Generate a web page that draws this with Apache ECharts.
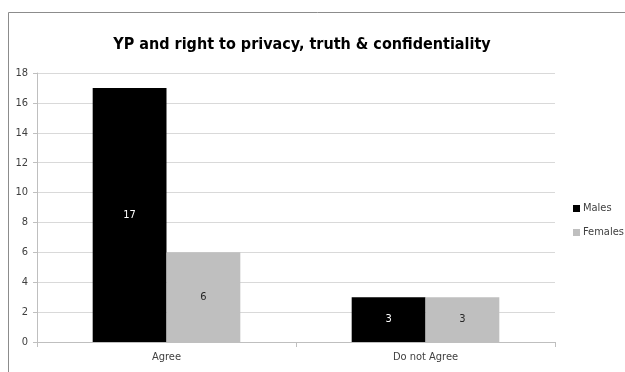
<!doctype html>
<html>
<head>
<meta charset="UTF-8">
<title>YP and right to privacy</title>
<script src="https://cdn.jsdelivr.net/npm/echarts@6/dist/echarts.min.js"></script>
<style>
  html, body { margin: 0; padding: 0; background: #fff; }
  #main { width: 625px; height: 372px; }
</style>
</head>
<body>
<div id="main"></div>
<script>
// data
var categories = ['Agree', 'Do not Agree'];
var males = [17, 3];
var females = [6, 3];
var seriesNames = ['Males', 'Females'];

var font = '"DejaVu Sans Condensed", "Liberation Sans", sans-serif';
var chart = echarts.init(document.getElementById('main'));

var option = {
  backgroundColor: '#fff',
  animation: false,
  textStyle: { fontFamily: font },
  title: {
    text: 'YP and right to privacy, truth & confidentiality',
    left: 297, top: 32, textAlign: 'center',
    textStyle: { fontFamily: font, fontSize: 16, fontWeight: 'bold', color: '#000' }
  },
  graphic: [{
    type: 'rect', z: -1,
    shape: { x: 8.5, y: 12.5, width: 640, height: 380 },
    style: { fill: 'none', stroke: '#8c8c8c', lineWidth: 1 }
  }],
  legend: {
    orient: 'vertical', left: 568, top: 198,
    itemWidth: 7, itemHeight: 7, itemGap: 13,
    icon: 'rect',
    textStyle: { fontFamily: font, fontSize: 11, color: '#404040', padding: [0, 0, 0, -2] },
    data: seriesNames
  },
  grid: { left: 37, right: 70, top: 73, bottom: 30 },
  xAxis: {
    type: 'category', data: categories,
    axisLine: { lineStyle: { color: '#bfbfbf' } },
    axisTick: { show: true, length: 5, lineStyle: { color: '#bfbfbf' } },
    axisLabel: { fontFamily: font, fontSize: 11, color: '#404040', margin: 10 }
  },
  yAxis: {
    type: 'value', min: 0, max: 18, interval: 2,
    axisLine: { show: true, lineStyle: { color: '#bfbfbf' } },
    axisTick: { show: true, length: 4, lineStyle: { color: '#bfbfbf' } },
    axisLabel: { fontFamily: font, fontSize: 11, color: '#404040', margin: 9 },
    splitLine: { lineStyle: { color: '#d9d9d9' } }
  },
  series: [{
    name: seriesNames[0], type: 'bar', data: males,
    barGap: '0%', barCategoryGap: '43%',
    itemStyle: { color: '#000000' },
    label: { show: true, position: 'inside', color: '#fff', fontFamily: font, fontSize: 11 }
  }, {
    name: seriesNames[1], type: 'bar', data: females,
    itemStyle: { color: '#bfbfbf' },
    label: { show: true, position: 'inside', color: '#262626', fontFamily: font, fontSize: 11 }
  }]
};
chart.setOption(option);
</script>
</body>
</html>
